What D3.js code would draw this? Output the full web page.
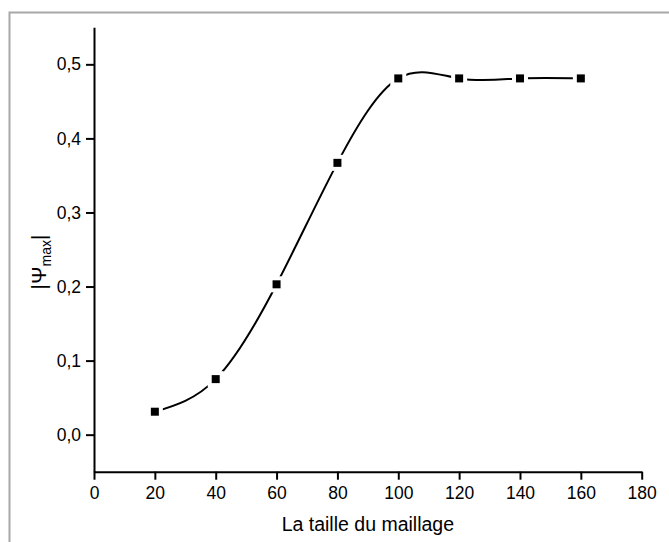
<!DOCTYPE html>
<html>
<head>
<meta charset="utf-8">
<script src="https://cdn.jsdelivr.net/npm/d3@7"></script>
<style>
  body { margin: 0; background: #fff; }
  text { font-family: "Liberation Sans", Arial, sans-serif; fill: #000; }
</style>
</head>
<body>
<script>
// données
const tailles = [20, 40, 60, 80, 100, 120, 140, 160];
const psiMax = [0.031, 0.075, 0.203, 0.367, 0.481, 0.481, 0.481, 0.481];
const ticksX = [0, 20, 40, 60, 80, 100, 120, 140, 160, 180];
const ticksY = [0, 0.1, 0.2, 0.3, 0.4, 0.5];

const W = 669, H = 542;
const svg = d3.select('body').append('svg')
  .attr('width', W)
  .attr('height', H);

// cadre gris (haut et gauche)
svg.append('path')
  .attr('d', 'M9.5,542 L9.5,12.5 L669,12.5')
  .attr('fill', 'none')
  .attr('stroke', '#a8a8a8')
  .attr('stroke-width', 2);

const x = d3.scaleLinear().domain([0, 180]).range([94, 641.7]);
const y = d3.scaleLinear().domain([-0.05, 0.55]).range([471.7, 27.3]);

const virgule = d3.formatLocale({decimal: ',', thousands: ' ', grouping: [3], currency: ['', '']});
const fmtY = virgule.format('.1f');

// axe X : mineurs puis majeurs
const gx = svg.append('g').attr('transform', `translate(0,${y(-0.05)})`);
gx.call(d3.axisBottom(x).tickValues(d3.range(10, 180, 20)).tickSize(5).tickFormat(''));
gx.call(d3.axisBottom(x).tickValues(ticksX).tickSize(8).tickSizeOuter(0).tickPadding(7));
gx.selectAll('path, line').attr('stroke', '#000').attr('stroke-width', 2);
gx.selectAll('text').style('font-size', '17.5px').style('font-family', '"Liberation Sans", Arial, sans-serif');

// axe Y
const gy = svg.append('g').attr('transform', `translate(${x(0)},0)`);
gy.call(d3.axisLeft(y).tickValues([-0.05, 0.05, 0.15, 0.25, 0.35, 0.45, 0.55]).tickSize(5).tickFormat(''));
gy.call(d3.axisLeft(y).tickValues(ticksY).tickSize(8).tickSizeOuter(0).tickPadding(5).tickFormat(fmtY));
gy.selectAll('path, line').attr('stroke', '#000').attr('stroke-width', 2);
gy.selectAll('text').style('font-size', '17.5px').style('font-family', '"Liberation Sans", Arial, sans-serif');

// titres des axes
svg.append('text')
  .attr('x', (x(0) + x(180)) / 2)
  .attr('y', 531)
  .attr('text-anchor', 'middle')
  .style('font-size', '19.5px')
  .text('La taille du maillage');

const ty = svg.append('text')
  .attr('transform', 'translate(46,262) rotate(-90)')
  .attr('text-anchor', 'middle')
  .style('font-size', '21px');
ty.append('tspan').text('|Ψ');
ty.append('tspan').style('font-size', '14px').attr('dy', 5).text('max');
ty.append('tspan').attr('dy', -5).text('|');

// courbe lissée
const points = tailles.map((t, i) => [t, psiMax[i]]);
const ligne = d3.line()
  .x(d => x(d[0]))
  .y(d => y(d[1]))
  .curve(d3.curveNatural);

svg.append('path')
  .attr('d', ligne(points))
  .attr('fill', 'none')
  .attr('stroke', '#000')
  .attr('stroke-width', 2);

// marqueurs carrés avec un espace blanc autour
const m = svg.selectAll('g.pt').data(points).enter().append('g')
  .attr('class', 'pt')
  .attr('transform', d => `translate(${x(d[0])},${y(d[1])})`);
m.append('rect').attr('x', -8).attr('y', -8).attr('width', 16).attr('height', 16).attr('fill', '#fff');
m.append('rect').attr('x', -4).attr('y', -4).attr('width', 8).attr('height', 8).attr('fill', '#000');
</script>
</body>
</html>
